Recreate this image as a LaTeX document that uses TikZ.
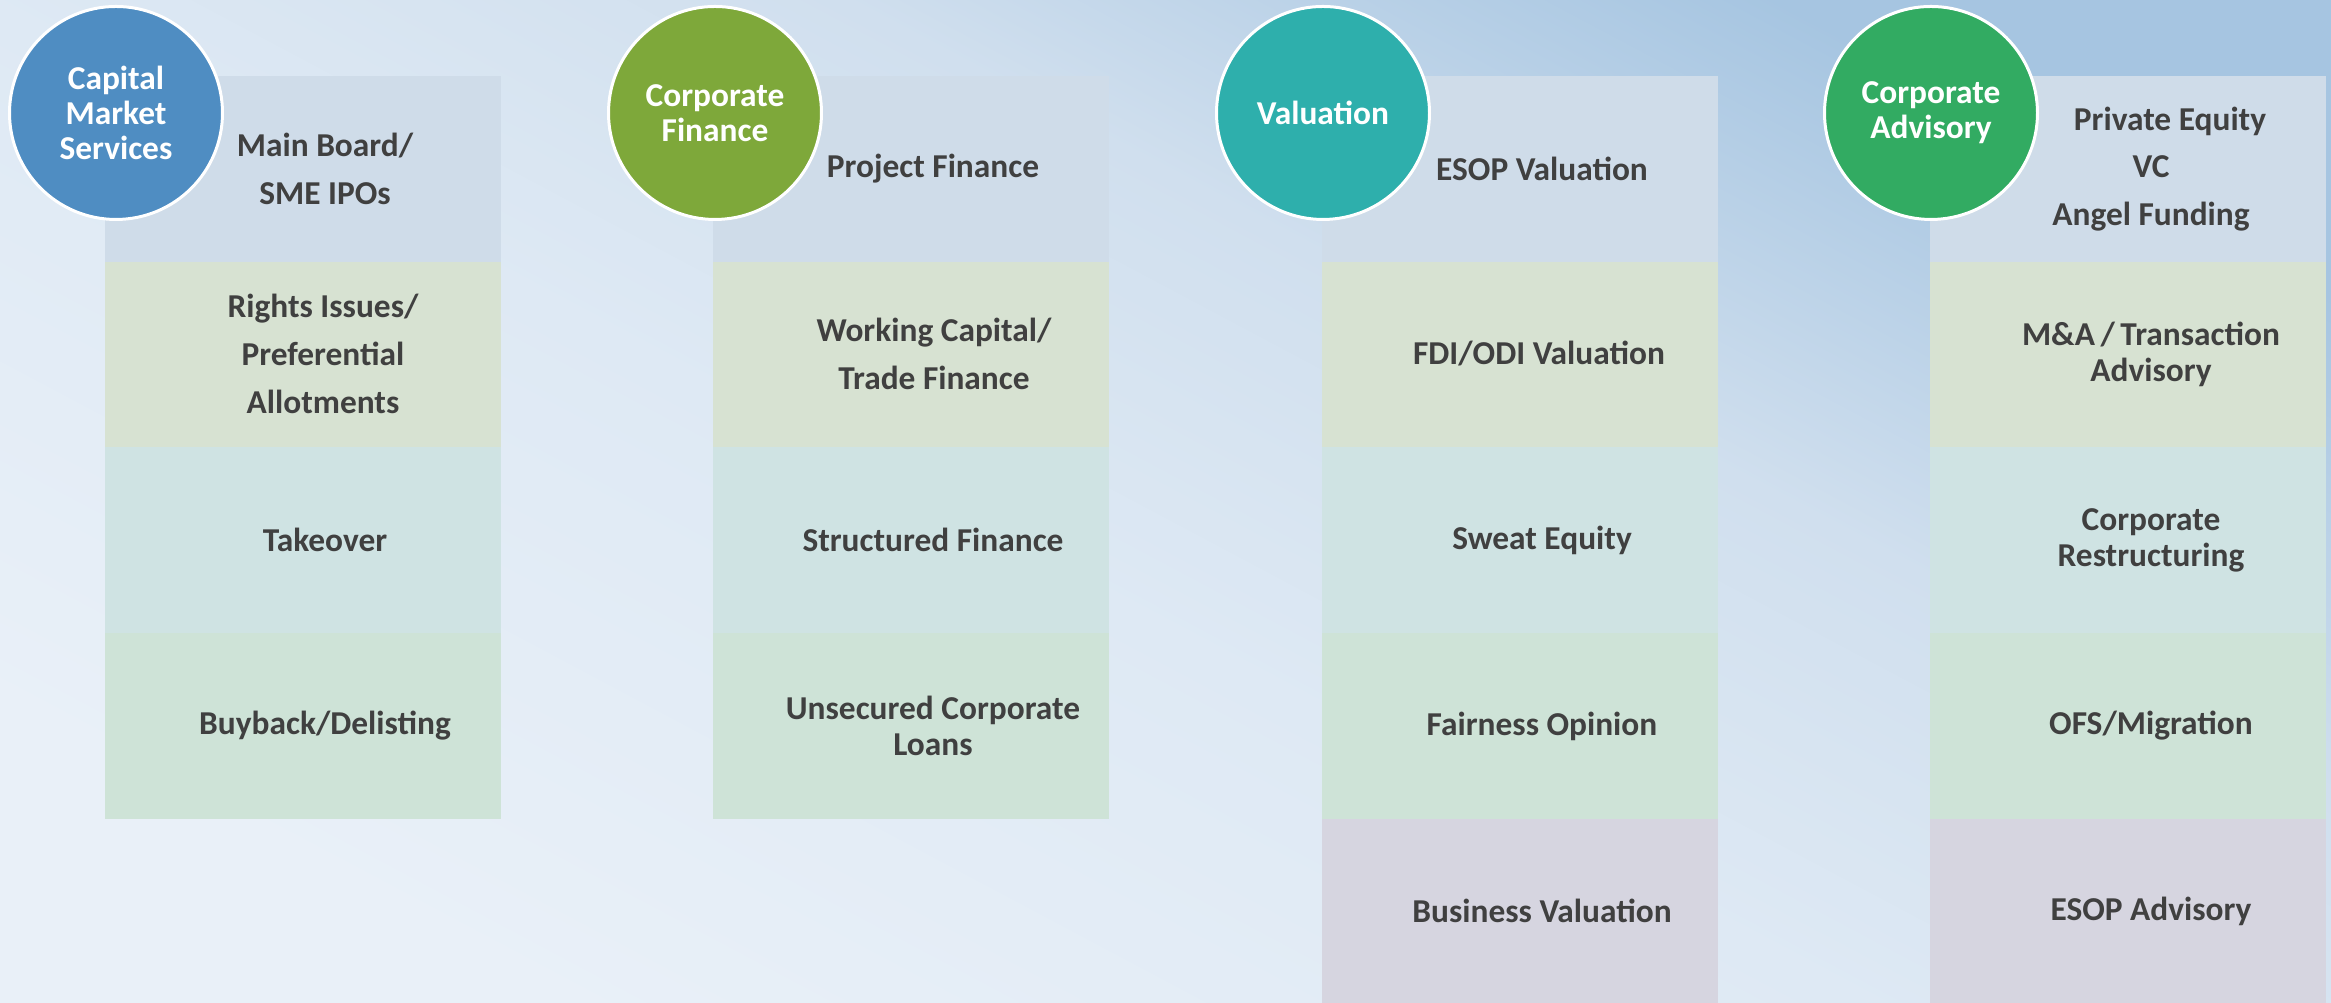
\documentclass[tikz,border=0pt]{standalone}
\usepackage{fontspec}
\setmainfont{Carlito}
\usepackage{tikz}
\usetikzlibrary{positioning}

\definecolor{bgtop}{HTML}{A6C5E1}
\definecolor{bgmid}{HTML}{D0DFEE}
\definecolor{bglight}{HTML}{DEE9F4}
\definecolor{bgbot}{HTML}{E9F0F8}
\definecolor{rowone}{HTML}{CFDCE9}
\definecolor{rowtwo}{HTML}{D7E2D2}
\definecolor{rowthree}{HTML}{CFE3E3}
\definecolor{rowfour}{HTML}{CEE3D7}
\definecolor{rowfive}{HTML}{D6D5E0}
\definecolor{capblue}{HTML}{4F8DC2}
\definecolor{finolive}{HTML}{7EA83A}
\definecolor{valteal}{HTML}{2EAFAC}
\definecolor{advgreen}{HTML}{32AB62}
\definecolor{txtgray}{HTML}{404040}

\pgfdeclareverticalshading{skyfade}{100bp}{color(0bp)=(bgbot); color(25bp)=(bgbot); color(46bp)=(bglight); color(60bp)=(bgmid); color(75bp)=(bgtop); color(100bp)=(bgtop)}

\tikzset{
	headcirc/.style={circle, draw=white, line width=0.03cm, minimum size=2.13cm, inner sep=0pt,
		text=white, align=center, font=\bfseries\fontsize{9.5pt}{10pt}\selectfont},
	itemwide/.style={text=txtgray, align=center, inner sep=0pt, font=\bfseries\fontsize{9.5pt}{13.6pt}\selectfont},
	itemtight/.style={text=txtgray, align=center, inner sep=0pt, font=\bfseries\fontsize{9.5pt}{10.2pt}\selectfont},
}

\begin{document}
\begin{tikzpicture}
			%%%%% START %%%%%
			
			\useasboundingbox (0, 0) rectangle (23.31, 10.03);
			\shade[shading=skyfade, shading angle=-28] (0, 0) rectangle (23.31, 10.03);
			
			% capital market services
			\fill[rowone] (1.05, 9.27) rectangle (5.01, 7.41);
			\fill[rowtwo] (1.05, 7.41) rectangle (5.01, 5.56);
			\fill[rowthree] (1.05, 5.56) rectangle (5.01, 3.70);
			\fill[rowfour] (1.05, 3.70) rectangle (5.01, 1.84);
			
			% corporate finance
			\fill[rowone] (7.13, 9.27) rectangle (11.09, 7.41);
			\fill[rowtwo] (7.13, 7.41) rectangle (11.09, 5.56);
			\fill[rowthree] (7.13, 5.56) rectangle (11.09, 3.70);
			\fill[rowfour] (7.13, 3.70) rectangle (11.09, 1.84);
			
			% valuation
			\fill[rowone] (13.22, 9.27) rectangle (17.18, 7.41);
			\fill[rowtwo] (13.22, 7.41) rectangle (17.18, 5.56);
			\fill[rowthree] (13.22, 5.56) rectangle (17.18, 3.70);
			\fill[rowfour] (13.22, 3.70) rectangle (17.18, 1.84);
			\fill[rowfive] (13.22, 1.84) rectangle (17.18, 0);
			
			% corporate advisory
			\fill[rowone] (19.30, 9.27) rectangle (23.26, 7.41);
			\fill[rowtwo] (19.30, 7.41) rectangle (23.26, 5.56);
			\fill[rowthree] (19.30, 5.56) rectangle (23.26, 3.70);
			\fill[rowfour] (19.30, 3.70) rectangle (23.26, 1.84);
			\fill[rowfive] (19.30, 1.84) rectangle (23.26, 0);
			
			\node[headcirc, fill=capblue] (capmkt) at (1.16, 8.90) {Capital\\Market\\Services};
			\node[headcirc, fill=finolive] (corpfin) at (7.15, 8.90) {Corporate\\Finance};
			\node[headcirc, fill=valteal] (valn) at (13.23, 8.90) {Valuation};
			\node[headcirc, fill=advgreen] (corpadv) at (19.31, 8.90) {Corporate\\Advisory};
			
			\node[itemwide] (ipo) at (3.25, 8.34) {Main Board/\\SME IPOs};
			\node[itemwide] (rights) at (3.23, 6.49) {Rights Issues/\\Preferential\\Allotments};
			\node[itemwide] (takeover) at (3.25, 4.63) {Takeover};
			\node[itemwide] (buyback) at (3.25, 2.77) {Buyback/Delisting};
			
			\node[itemwide] (projfin) at (9.33, 8.34) {Project Finance};
			\node[itemwide] (wcap) at (9.34, 6.49) {Working Capital/\\Trade Finance};
			\node[itemwide] (structfin) at (9.33, 4.63) {Structured Finance};
			\node[itemtight] (unsec) at (9.33, 2.77) {Unsecured Corporate\\Loans};
			
			\node[itemwide] (esopval) at (15.42, 8.34) {ESOP Valuation};
			\node[itemwide] (fdival) at (15.39, 6.49) {FDI/ODI Valuation};
			\node[itemwide] (sweat) at (15.42, 4.63) {Sweat Equity};
			\node[itemwide] (fairness) at (15.42, 2.77) {Fairness Opinion};
			\node[itemwide] (busval) at (15.42, 0.92) {Business Valuation};
			
			\node[itemwide] (privequity) at (21.51, 8.34) {\hspace*{0.38cm}Private Equity\\VC\\Angel Funding};
			\node[itemtight] (manda) at (21.51, 6.49) {M\&A\,/\,Transaction\\Advisory};
			\node[itemtight] (restruct) at (21.51, 4.63) {Corporate\\Restructuring};
			\node[itemwide] (ofs) at (21.51, 2.77) {OFS/Migration};
			\node[itemwide] (esopadv) at (21.51, 0.92) {ESOP Advisory};
			
			%%%%% END %%%%%
\end{tikzpicture}
\end{document}
